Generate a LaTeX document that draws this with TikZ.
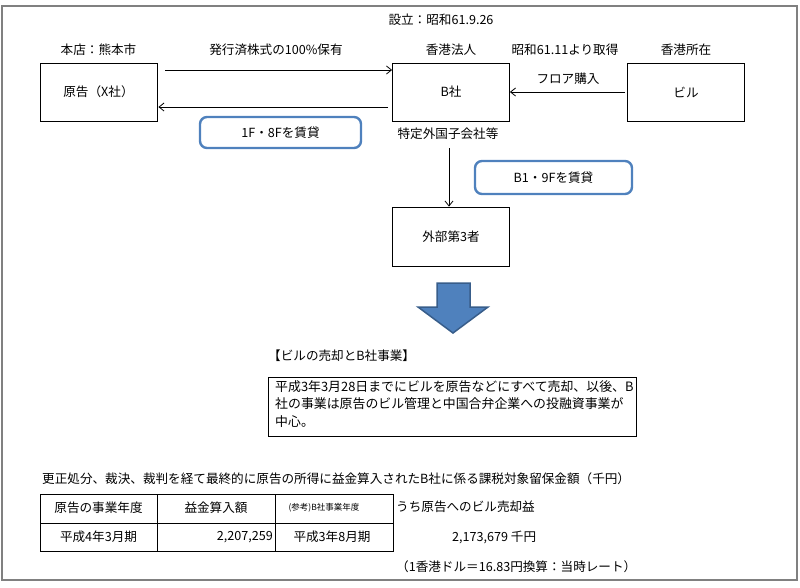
\documentclass[tikz,border=0pt]{standalone}
\usepackage{fontspec}
\setmainfont{Noto Sans CJK JP}
\usetikzlibrary{arrows.meta}
\definecolor{rblue}{HTML}{4F81BD}
\definecolor{dblue}{HTML}{385D8A}
\tikzset{
  box/.style={draw=black, line width=0.8pt, minimum width=117pt, minimum height=58pt, inner sep=0pt},
  rbox/.style={draw=rblue, line width=2.4pt, rounded corners=7pt, inner sep=0pt},
  lbl/.style={inner sep=0pt, font=\fontsize{12.6}{15}\selectfont},
  arr/.style={line width=0.8pt, -{Straight Barb[length=5pt,width=8pt]}},
  tline/.style={draw=black, line width=0.8pt}
}
\begin{document}
\begin{tikzpicture}[x=1pt,y=-1pt,font=\fontsize{12.6}{15}\selectfont]
\useasboundingbox (0,0) rectangle (800,587);
\draw[gray, line width=1.5pt] (2,6) rectangle (797,580);

% nodes
\node[box] (x) at (98.5,92) {原告（X社）};
\node[box] (b) at (451,92) {B社};
\node[box] (bldg) at (686,92) {ビル};
\node[box, minimum height=59pt] (c) at (451,236.5) {外部第3者};

\node[lbl] (hq) at (98.5,50) {本店：熊本市};
\node[lbl] (own) at (276,50) {発行済株式の100\%保有};
\node[lbl] (est) at (441,20) {設立：昭和61.9.26};
\node[lbl] (hk) at (451,50) {香港法人};
\node[lbl] (acq) at (565,50) {昭和61.11より取得};
\node[lbl] (loc) at (686,50) {香港所在};
\node[lbl] (floor) at (568,79) {フロア購入};
\node[lbl] (toku) at (448,134) {特定外国子会社等};

\node[rbox, minimum width=161pt, minimum height=31pt] (r1) at (280.5,132.5) {1F・8Fを賃貸};
\node[rbox, minimum width=157pt, minimum height=33pt] (r2) at (553.5,177.5) {B1・9Fを賃貸};

% connectors
\draw[arr] ([xshift=8pt,yshift=22pt]x.east) -- ([yshift=22pt]b.west);
\draw[arr] ([xshift=-4pt,yshift=-15pt]b.west) -- ([xshift=1pt,yshift=-15pt]x.east);
\draw[arr] ([xshift=-2pt]bldg.west) -- (b.east);
\draw[arr] ([xshift=-2pt,yshift=-8pt]c.north |- toku.south) -- ([xshift=-2pt]c.north);

% big arrow
\draw[fill=rblue, draw=dblue, line width=1.5pt, line join=miter]
  (437,283) -- (470,283) -- (470,307) -- (488,307) -- (453,333) -- (418,307) -- (437,307) -- cycle;

% sale section
\node[lbl, anchor=west] (sale) at (268,356) {【ビルの売却とB社事業】};
\draw[line width=0.8pt] (268,377) rectangle (636,436);
\node[anchor=north west, inner sep=0pt, align=left, font=\fontsize{12.9}{17.5}\selectfont] (saletxt) at (275,380)
  {平成3年3月28日までにビルを原告などにすべて売却、以後、B\\社の事業は原告のビル管理と中国合弁企業への投融資事業が\\中心。};

% table
\node[lbl, anchor=west] (ttl) at (42,479) {更正処分、裁決、裁判を経て最終的に原告の所得に益金算入されたB社に係る課税対象留保金額（千円）};
\draw[tline] (40,494) rectangle (393,551);
\draw[tline] (40,523) -- (393,523);
\draw[tline] (157,494) -- (157,551);
\draw[tline] (275,494) -- (275,551);
\node[lbl] (h1) at (98.5,508) {原告の事業年度};
\node[lbl] (h2) at (216,508) {益金算入額};
\node[lbl, font=\fontsize{8.5}{10}\selectfont] (h3) at (324,508) {(参考)B社事業年度};
\node[lbl] (v1) at (98.5,537) {平成4年3月期};
\node[lbl, anchor=east] (v2) at (273,537) {2,207,259};
\node[lbl] (v3) at (332,537) {平成3年8月期};
\node[lbl, anchor=west] (u1) at (396,507) {うち原告へのビル売却益};
\node[lbl, anchor=west] (u2) at (452,537) {2,173,679 千円};
\node[lbl, anchor=west] (u3) at (396,567) {（1香港ドル＝16.83円換算：当時レート）};
\end{tikzpicture}
\end{document}
